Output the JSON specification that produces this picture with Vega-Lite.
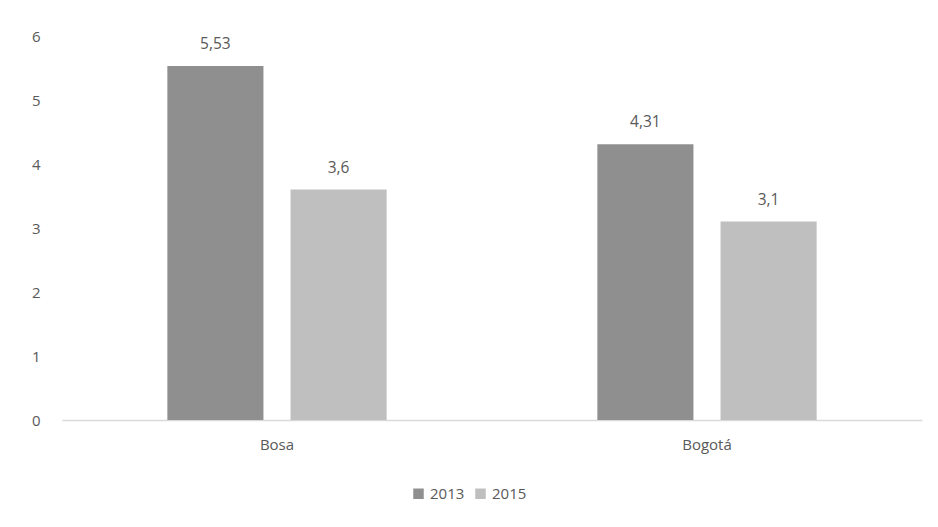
{
  "$schema": "https://vega.github.io/schema/vega-lite/v6.json",
  "autosize": "none",
  "width": 860,
  "height": 384,
  "padding": {"left": 62, "top": 36, "right": 16, "bottom": 107},
  "background": "white",
  "config": {
    "view": {"stroke": null},
    "font": "Open Sans",
    "locale": {"number": {"decimal": ",", "thousands": ".", "grouping": [3], "currency": ["", ""]}},
    "axis": {"labelFont": "Open Sans", "labelFontSize": 15, "labelColor": "#595959", "grid": false, "ticks": false, "title": null},
    "legend": {"labelFont": "Open Sans", "labelFontSize": 15, "labelColor": "#595959"}
  },
  "data": {
    "values": [
      {"lugar": "Bosa", "anio": "2013", "valor": 5.53},
      {"lugar": "Bosa", "anio": "2015", "valor": 3.6},
      {"lugar": "Bogotá", "anio": "2013", "valor": 4.31},
      {"lugar": "Bogotá", "anio": "2015", "valor": 3.1}
    ]
  },
  "encoding": {
    "x": {
      "field": "lugar", "type": "nominal", "sort": ["Bosa", "Bogotá"],
      "scale": {"paddingInner": 0.49, "paddingOuter": 0.245},
      "axis": {"labelAngle": 0, "labelPadding": 17, "domainColor": "#d9d9d9", "domainWidth": 1.5}
    },
    "xOffset": {"field": "anio", "type": "nominal", "scale": {"paddingInner": 0.22, "paddingOuter": 0}},
    "y": {
      "field": "valor", "type": "quantitative",
      "scale": {"domain": [0, 6]},
      "axis": {"values": [0, 1, 2, 3, 4, 5, 6], "domain": false, "labelPadding": 22}
    }
  },
  "layer": [
    {
      "mark": {"type": "bar"},
      "encoding": {
        "color": {
          "field": "anio", "type": "nominal", "title": null,
          "scale": {"domain": ["2013", "2015"], "range": ["#8f8f8f", "#bfbfbf"]},
          "legend": {"orient": "none", "legendX": 349, "legendY": 450, "direction": "horizontal", "symbolType": "square", "symbolSize": 110, "symbolStrokeWidth": 0, "columnPadding": 8, "labelOffset": 4}
        }
      }
    },
    {
      "mark": {"type": "text", "baseline": "bottom", "dy": -14, "fontSize": 15.5, "color": "#595959"},
      "encoding": {"text": {"field": "valor", "type": "quantitative", "format": ".3~g"}}
    }
  ]
}
